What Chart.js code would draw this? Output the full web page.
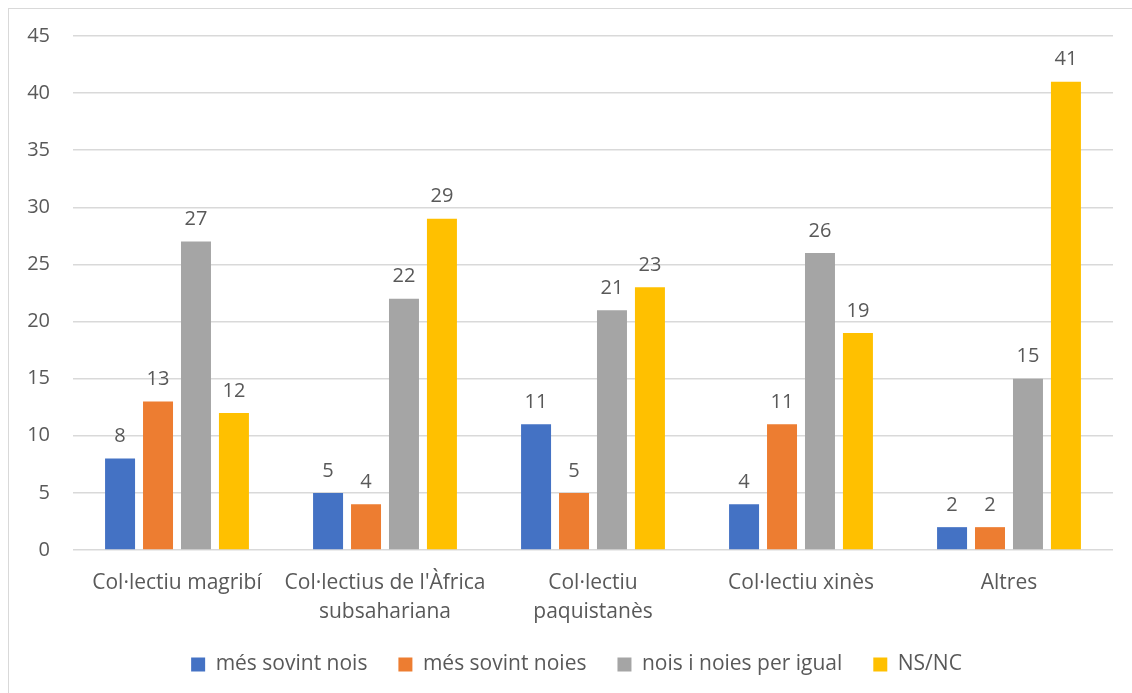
<!DOCTYPE html>
<html>
<head>
<meta charset="utf-8">
<script src="https://cdn.jsdelivr.net/npm/chart.js@4"></script>
<style>
  html, body { margin: 0; padding: 0; background: #fff; }
  #wrap { position: relative; width: 1132px; height: 693px; }
  #frame { position: absolute; left: 8px; top: 8px; width: 1140px; height: 700px; border: 1px solid #d9d9d9; pointer-events: none; }
</style>
</head>
<body>
<div id="wrap">
  <canvas id="chart" width="1132" height="693"></canvas>
  <div id="frame"></div>
</div>
<script>
const categories = [
  'Col·lectiu magribí',
  ["Col·lectius de l'Àfrica", 'subsahariana'],
  ['Col·lectiu', 'paquistanès'],
  'Col·lectiu xinès',
  'Altres'
];
const seriesNames = ['més sovint nois', 'més sovint noies', 'nois i noies per igual', 'NS/NC'];
const mesSovintNois = [8, 5, 11, 4, 2];
const mesSovintNoies = [13, 4, 5, 11, 2];
const perIgual = [27, 22, 21, 26, 15];
const nsnc = [12, 29, 23, 19, 41];
const colors = ['#4472C4', '#ED7D31', '#A5A5A5', '#FFC000'];

const textColor = '#595959';
const fontFamily = "'Open Sans', 'Noto Sans', sans-serif";

// writes each bar's value just above it
const valueLabels = {
  id: 'valueLabels',
  afterDatasetsDraw(chart) {
    const ctx = chart.ctx;
    ctx.save();
    ctx.font = '20px ' + fontFamily;
    ctx.fillStyle = textColor;
    ctx.textAlign = 'center';
    ctx.textBaseline = 'bottom';
    chart.data.datasets.forEach((ds, i) => {
      chart.getDatasetMeta(i).data.forEach((bar, j) => {
        ctx.fillText(ds.data[j], bar.x, bar.y - 12);
      });
    });
    ctx.restore();
  }
};

// nudge the legend box a little right and up
const legendNudge = {
  id: 'legendNudge',
  afterLayout(chart) {
    const lg = chart.legend;
    lg.left += 10;
    lg.right += 10;
    lg.top -= 3;
    lg.bottom -= 3;
  }
};

const seriesData = [mesSovintNois, mesSovintNoies, perIgual, nsnc];

new Chart(document.getElementById('chart'), {
  type: 'bar',
  data: {
    labels: categories,
    datasets: seriesData.map((d, i) => ({
      label: seriesNames[i],
      data: d,
      backgroundColor: colors[i],
      categoryPercentage: 0.73,
      barPercentage: 0.79
    }))
  },
  options: {
    responsive: false,
    animation: false,
    layout: { padding: { left: 20, right: 19, top: 36, bottom: 5 } },
    plugins: {
      legend: {
        position: 'bottom',
        labels: {
          color: textColor,
          font: { size: 21, family: fontFamily },
          boxWidth: 14,
          boxHeight: 14,
          padding: 31
        }
      },
      tooltip: { enabled: false }
    },
    scales: {
      x: {
        afterFit(scale) { scale.height = 76; },
        grid: { display: false },
        border: { display: false },
        ticks: {
          color: textColor,
          font: { size: 21, family: fontFamily, lineHeight: 1.4 },
          maxRotation: 0,
          padding: 10
        }
      },
      y: {
        min: 0,
        max: 45,
        afterFit(scale) { scale.width = 53; },
        grid: { color: '#d9d9d9', lineWidth: 1.5, drawTicks: false },
        border: { display: false },
        ticks: {
          stepSize: 5,
          color: textColor,
          font: { size: 20, family: fontFamily },
          padding: 23
        }
      }
    }
  },
  plugins: [valueLabels, legendNudge]
});
</script>
</body>
</html>
